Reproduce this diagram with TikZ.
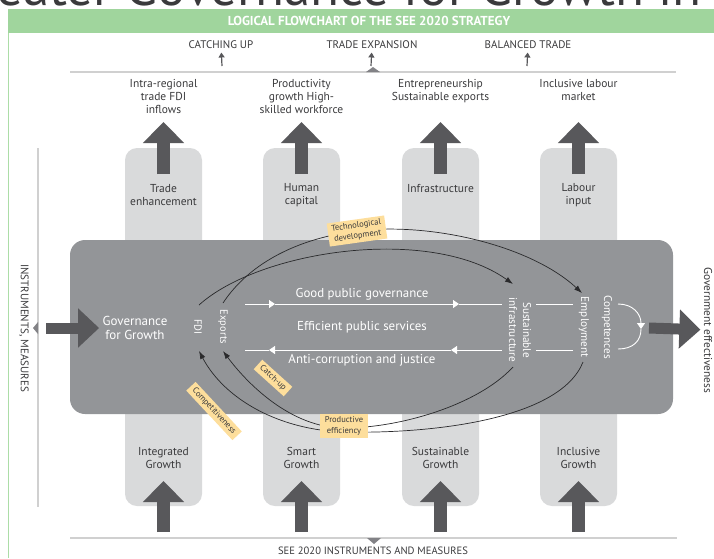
\documentclass[tikz,border=0pt]{standalone}
\usepackage{fontspec}
\setmainfont{PT Sans}
\usetikzlibrary{arrows.meta}

\definecolor{hdrgreen}{RGB}{160,213,157}
\definecolor{framegreen}{RGB}{172,221,167}
\definecolor{colgrey}{RGB}{217,218,219}
\definecolor{boxgrey}{RGB}{147,149,152}
\definecolor{arrowgrey}{RGB}{88,88,91}
\definecolor{linegrey}{RGB}{208,208,208}
\definecolor{markgrey}{RGB}{130,130,134}
\definecolor{tagorange}{RGB}{253,222,156}
\definecolor{txtgrey}{RGB}{58,58,60}
\definecolor{flowgrey}{RGB}{42,42,44}

\tikzset{
  goal/.style={text=txtgrey, font=\fontsize{11}{13}\selectfont, align=center},
  outcome/.style={text=txtgrey, font=\fontsize{11.5}{13}\selectfont, align=center},
  pillartext/.style={text=txtgrey, font=\fontsize{11.5}{13}\selectfont, align=center},
  boxtext/.style={text=white, font=\fontsize{11.2}{14}\selectfont, align=center},
  bigtext/.style={text=white, font=\fontsize{12.9}{14}\selectfont},
  sidetext/.style={text=txtgrey, font=\fontsize{11}{12}\selectfont},
  bigarrow/.style={draw=arrowgrey, line width=13pt, -{Triangle[width=40pt,length=21pt]}},
  sidearrow/.style={draw=arrowgrey, line width=11pt, -{Triangle[width=38pt,length=21pt]}},
  thinarrow/.style={draw=arrowgrey, line width=1.2pt, -{Triangle[width=6pt,length=5pt]}},
  wline/.style={draw=white, line width=0.9pt},
  wtip/.style={-{Triangle[width=8pt,length=6pt]}},
  flow/.style={draw=flowgrey, line width=0.7pt},
  tag/.style={fill=tagorange, text=txtgrey, font=\fontsize{8.5}{10.5}\selectfont, align=center, inner xsep=4pt, inner ysep=2.5pt}
}

\begin{document}
\begin{tikzpicture}[x=1pt,y=-1pt,>={Latex[length=8pt,width=5.5pt]}]
\useasboundingbox (0,0) rectangle (714,558);

% heading of the page, cut by the edge
\begin{scope}
\clip (0,0) rectangle (714,9);
\node[anchor=base east, inner sep=0pt, text=txtgrey, font=\fontsize{53}{53}\selectfont] (headleft) at (112,5) {Greater};
\node[anchor=base west, inner sep=0pt, text=txtgrey, font=\fontsize{53}{53}\selectfont] (headright) at (125,5) {Governance for Growth in};
\end{scope}

% frame and title bar
\fill[hdrgreen] (8,9) rectangle (714,33);
\draw[framegreen, line width=1pt] (8,33) -- (8,558);
\node[text=white, font=\bfseries\fontsize{13}{14}\selectfont] (title) at (369,21) {LOGICAL FLOWCHART OF THE SEE 2020 STRATEGY};

% pillars
\fill[colgrey, rounded corners=12pt] (125,148) rectangle (202,506);
\fill[colgrey, rounded corners=12pt] (263,148) rectangle (340,506);
\fill[colgrey, rounded corners=12pt] (402,148) rectangle (479,506);
\fill[colgrey, rounded corners=12pt] (540,148) rectangle (617,506);

% central block
\fill[boxgrey, rounded corners=15pt] (70,240) rectangle (673,414);

% goals on top
\node[goal] (catching) at (221,45) {CATCHING UP};
\node[goal] (expansion) at (372,45) {TRADE EXPANSION};
\node[goal] (balanced) at (528,45) {BALANCED TRADE};
\coordinate (catching-a) at (222,66);
\coordinate (expansion-a) at (371,66);
\coordinate (balanced-a) at (527,66);
\draw[thinarrow] (catching-a) -- (catching);
\draw[thinarrow] (expansion-a) -- (expansion);
\draw[thinarrow] (balanced-a) -- (balanced);

\draw[linegrey, line width=1.3pt] (70,72) -- (676,72);
\fill[markgrey] (366,72) -- (373,67) -- (380,72) -- cycle;

\node[outcome, anchor=north] (intra) at (163.5,76) {Intra-regional\\trade FDI\\inflows};
\node[outcome, anchor=north] (product) at (301.5,76) {Productivity\\growth High-\\skilled workforce};
\node[outcome, anchor=north] (entre) at (440.5,76) {Entrepreneurship\\Sustainable exports};
\node[outcome, anchor=north] (inclab) at (578.5,76) {Inclusive labour\\market};

% pillar heads
\draw[bigarrow] (163.5,174) -- (163.5,122);
\draw[bigarrow] (301.5,174) -- (301.5,122);
\draw[bigarrow] (440.5,174) -- (440.5,122);
\draw[bigarrow] (578.5,174) -- (578.5,122);

\node[pillartext] (trade) at (163.5,195) {Trade\\enhancement};
\node[pillartext] (human) at (301.5,195) {Human\\capital};
\node[pillartext] (infra) at (440.5,189) {Infrastructure};
\node[pillartext] (labour) at (578.5,195) {Labour\\input};

% pillar feet
\node[pillartext] (integ) at (163.5,458) {Integrated\\Growth};
\node[pillartext] (smart) at (301.5,458) {Smart\\Growth};
\node[pillartext] (sustg) at (440.5,458) {Sustainable\\Growth};
\node[pillartext] (inclg) at (578.5,458) {Inclusive\\Growth};

\draw[bigarrow] (163.5,532) -- (163.5,481);
\draw[bigarrow] (301.5,532) -- (301.5,481);
\draw[bigarrow] (440.5,532) -- (440.5,481);
\draw[bigarrow] (578.5,532) -- (578.5,481);

\draw[linegrey, line width=1.3pt] (70,538) -- (677,538);
\fill[markgrey] (367,538) -- (374,544) -- (381,538) -- cycle;
\node[goal, font=\fontsize{10.6}{12}\selectfont] (see) at (373,551) {SEE 2020 INSTRUMENTS AND MEASURES};

% left side
\draw[linegrey, line width=1.2pt] (38,148) -- (38,507);
\fill[markgrey] (38,322) -- (33,328) -- (38,334) -- cycle;
\node[sidetext, rotate=-90] (instr) at (24,328) {INSTRUMENTS, MEASURES};

\node[boxtext, font=\fontsize{13}{14}\selectfont] (gov) at (135,328) {Governance\\for Growth};
\coordinate (gov-a) at (46,328);
\draw[sidearrow] (gov-a) -- (gov);

% right side
\node[sidetext, font=\fontsize{11.4}{12}\selectfont, rotate=-90] (goveff) at (708,330) {Government effectiveness};
\coordinate (goveff-a) at (649,328);
\draw[sidearrow] (goveff-a) -- (goveff);

% inside the block
\node[boxtext, font=\fontsize{10.5}{12}\selectfont, rotate=-90] (fdi) at (198,327) {FDI};
\node[boxtext, font=\fontsize{10.5}{12}\selectfont, rotate=-90] (exp) at (223,327) {Exports};
\node[bigtext] (gpg) at (362,294) {Good public governance};
\node[bigtext] (eps) at (362,327) {Efficient public services};
\node[bigtext] (acj) at (362,360) {Anti-corruption and justice};
\node[boxtext, rotate=-90] (sust) at (520,330) {Sustainable\\infrastructure};
\node[boxtext, rotate=-90] (emp) at (584,327) {Employment};
\node[boxtext, rotate=-90] (compet) at (607,327) {Competences};

\coordinate (gpg-a) at (245,304);
\coordinate (gpg-b) at (275,304);
\coordinate (gpg-c) at (459,304);
\coordinate (gpg-d) at (502,304);
\coordinate (gpg-e) at (536,304);
\coordinate (gpg-f) at (573,304);
\draw[wline, wtip] (gpg-a) -- (gpg-b);
\draw[wline, wtip] (gpg-b) -- (gpg-c);
\draw[wline] (gpg-c) -- (gpg-d);
\draw[wline] (gpg-e) -- (gpg-f);

\coordinate (acj-a) at (502,350);
\coordinate (acj-b) at (451,350);
\coordinate (acj-c) at (269,350);
\coordinate (acj-d) at (245,350);
\coordinate (acj-e) at (573,350);
\coordinate (acj-f) at (536,350);
\draw[wline, wtip] (acj-a) -- (acj-b);
\draw[wline, wtip] (acj-b) -- (acj-c);
\draw[wline] (acj-c) -- (acj-d);
\draw[wline] (acj-e) -- (acj-f);

% loop of the competences
\coordinate (comp-a) at (618,304);
\coordinate (comp-b) at (641,329);
\coordinate (comp-c) at (618,349);
\draw[wline, wtip] (comp-a) .. controls (633,304) and (641,314) .. (comp-b);
\draw[wline] (comp-b) .. controls (641,341) and (633,349) .. (comp-c);

% flows
\coordinate (fdi-out) at (199,305);
\coordinate (exp-out) at (223,303);
\coordinate (sust-in) at (513,284);
\coordinate (emp-in) at (582,293);
\coordinate (sust-out) at (513,367);
\coordinate (emp-out) at (583,362);
\coordinate (fdi-in) at (199,351);
\coordinate (exp-in) at (223,351);
\coordinate (tech-pt) at (357,231);
\coordinate (pe-up) at (344,428);
\coordinate (pe-low) at (344,432);

\draw[flow, ->] (fdi-out) .. controls (260,250) and (430,225) .. (sust-in);
\draw[flow, ->] (exp-out) .. controls (250,262) and (300,238) .. (tech-pt) .. controls (430,222) and (530,245) .. (emp-in);
\draw[flow, ->] (sust-out) .. controls (478,405) and (400,428) .. (pe-up) .. controls (290,428) and (246,382) .. (exp-in);
\draw[flow, ->] (emp-out) .. controls (560,420) and (430,434) .. (pe-low) .. controls (280,430) and (225,400) .. (fdi-in);

% tags on the flows
\node[tag, rotate=8] (techdev) at (tech-pt) {Technological\\development};
\node[tag, inner xsep=5pt] (prodeff) at (344,426) {Productive\\efficiency};
\node[tag, rotate=-42] (catchup) at (273,378) {Catch-up};
\node[tag, rotate=-47] (competit) at (214,411) {Competitiveness};

\end{tikzpicture}
\end{document}
